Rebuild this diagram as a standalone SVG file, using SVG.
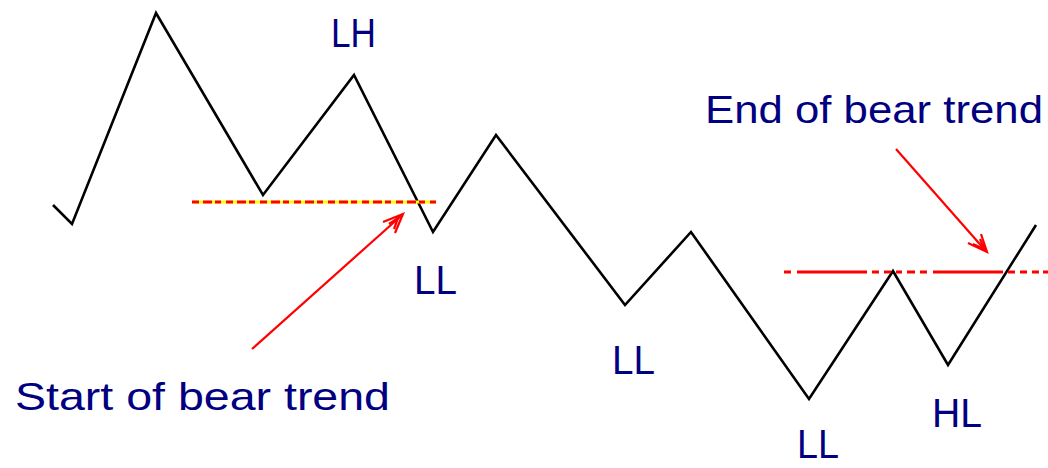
<svg xmlns="http://www.w3.org/2000/svg" width="1048" height="468" viewBox="0 0 1048 468">
<style>
.price{fill:none;stroke:#000;stroke-width:2.6;stroke-linejoin:miter}
.lvl{fill:none;stroke:#ff0000;stroke-width:3}
.arr{fill:none;stroke:#ff0000;stroke-width:2.2}
.lbl{fill:#000080;font-family:"Liberation Sans",Arial,sans-serif;font-size:41px}
.note{fill:#000080;font-family:"Liberation Sans",Arial,sans-serif;font-size:39px}
</style>
<rect width="1048" height="468" fill="#fff"/>
<g id="price-line">
<polyline class="price" points="53,205 72,224 156,13 263,195 354,75 433,232 496,135 625,305 691,232 809,399 893,271 948,365 1036,225"/>
</g>
<g id="levels">
<line x1="192" y1="202" x2="436" y2="202" stroke="#ffff00" stroke-width="3"/>
<line class="lvl" x1="192" y1="202" x2="436" y2="202" stroke-dasharray="7,4,9,3,6,5"/>
<path class="lvl" d="M784,272H791M797,272H867M872,272H879M884,272H891M896,272H902M907,272H915M920,272H927M933,272H1003M1008,272H1015M1020,272H1027M1032,272H1039M1043,272H1048"/>
</g>
<g id="connectors">
<path class="arr" d="M252,349L401,216"/>
<path class="arr" stroke-width="3" d="M383,222L403,214L395,233M389,224L398,218L394,229"/>
<path class="arr" d="M896,149L985,250"/>
<path class="arr" stroke-width="3" d="M968,243L987,252L981,234M973,244L984,249L980,239"/>
</g>
<g id="label-LH"><text class="lbl" x="331" y="47" textLength="45" lengthAdjust="spacingAndGlyphs">LH</text></g>
<g id="label-LL1"><text class="lbl" x="414" y="294" textLength="43" lengthAdjust="spacingAndGlyphs">LL</text></g>
<g id="label-LL2"><text class="lbl" x="612" y="374" textLength="43" lengthAdjust="spacingAndGlyphs">LL</text></g>
<g id="label-LL3"><text class="lbl" x="797" y="458" textLength="42" lengthAdjust="spacingAndGlyphs">LL</text></g>
<g id="label-HL"><text class="lbl" x="932" y="427" textLength="50" lengthAdjust="spacingAndGlyphs">HL</text></g>
<g id="label-start"><text class="note" x="15" y="410" textLength="375" lengthAdjust="spacingAndGlyphs">Start of bear trend</text></g>
<g id="label-end"><text class="note" x="705" y="123" textLength="338" lengthAdjust="spacingAndGlyphs">End of bear trend</text></g>
</svg>
